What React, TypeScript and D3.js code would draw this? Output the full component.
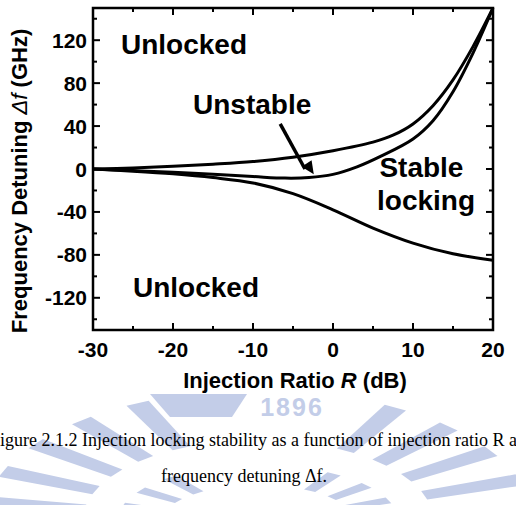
import React, { useEffect, useRef } from 'react';
import * as d3 from 'd3';

// boundary curves: [injection ratio dB, detuning GHz]
const upperBoundary = [
  [-30, 0], [-25, 1], [-20, 2.5], [-15, 4.5], [-10, 7], [-5, 11], [0, 17],
  [5, 25], [7.5, 31.5], [10, 42], [12.5, 59], [15, 83], [17.5, 114], [20, 150],
];
const stableBoundary = [
  [-30, 0], [-25, -1.5], [-20, -3], [-15, -5], [-10, -7], [-6, -8.5], [-3, -8],
  [0, -5], [3, 2], [6, 12], [10, 28], [12.5, 45], [15, 72], [17.5, 108], [20, 150],
];
const lowerBoundary = [
  [-30, 0], [-25, -2], [-20, -4.5], [-15, -8], [-10, -13], [-5, -23], [0, -38],
  [5, -55], [10, -69], [15, -79], [20, -85],
];

const xTicks = [-30, -20, -10, 0, 10, 20];
const yTicks = [-120, -80, -40, 0, 40, 80, 120];

const regionLabels = [
  { text: 'Unlocked', x: -26.5, y: 107 },
  { text: 'Unstable', x: -17.5, y: 51 },
  { text: 'Stable', x: 5.8, y: -7 },
  { text: 'locking', x: 5.5, y: -38 },
  { text: 'Unlocked', x: -25, y: -119 },
];

const App = () => {
  const svgRef = useRef(null);

  useEffect(() => {
    const svg = d3.select(svgRef.current);
    svg.selectAll('*').remove();

    const margin = { top: 8, right: 23, bottom: 175, left: 93 };
    const W = 516, H = 505;
    const x = d3.scaleLinear().domain([-30, 20]).range([margin.left, W - margin.right]);
    const y = d3.scaleLinear().domain([-150, 150]).range([H - margin.bottom, margin.top]);
    const sans = "'Liberation Sans', Arial, sans-serif";

    // faint watermark logo behind the caption (decoration only)
    const wm = svg.append('g').attr('fill', '#c3cde8');
    const cx = 258, cy = 520;
    const ray = (a, w, r0x, r0y, r1x, r1y) => {
      const pt = (t, rx, ry) => [cx + rx * Math.cos(t), cy + ry * Math.sin(t)];
      const r = (a * Math.PI) / 180, dw = (w * Math.PI) / 180;
      const p = [pt(r - dw, r0x, r0y), pt(r - dw * 0.8, r1x, r1y), pt(r + dw * 0.8, r1x, r1y), pt(r + dw, r0x, r0y)];
      wm.append('path').attr('d', 'M' + p.join('L') + 'Z');
    };
    d3.range(-172, 0, 14).forEach(a => {
      if (a > -112 && a < -60) return;
      ray(a, 3.2, 175, 80, 275, 130);
    });
    d3.range(-165, -10, 18).forEach(a => {
      if (a > -120 && a < -60) return;
      ray(a, 4, 95, 35, 140, 55);
    });
    wm.append('path').attr('d', 'M150,394L247,394L232,417L170,417Z');
    wm.append('text').attr('x', 292).attr('y', 416).attr('text-anchor', 'middle')
      .attr('font-family', sans).attr('font-weight', 'bold').attr('font-size', 25)
      .attr('letter-spacing', 2).text('1896');

    const g = svg.append('g');

    // curves
    const line = d3.line().x(d => x(d[0])).y(d => y(d[1])).curve(d3.curveCatmullRom.alpha(0.5));
    [upperBoundary, stableBoundary, lowerBoundary].forEach(data => {
      g.append('path').attr('d', line(data))
        .attr('fill', 'none').attr('stroke', '#000').attr('stroke-width', 3);
    });

    // frame
    g.append('rect')
      .attr('x', x(-30)).attr('y', y(150))
      .attr('width', x(20) - x(-30)).attr('height', y(-150) - y(150))
      .attr('fill', 'none').attr('stroke', '#000').attr('stroke-width', 2.5);

    // ticks, all pointing inward
    const tick = (x1, y1, x2, y2) => g.append('line')
      .attr('x1', x1).attr('y1', y1).attr('x2', x2).attr('y2', y2)
      .attr('stroke', '#000').attr('stroke-width', 2);
    d3.range(-30, 21, 5).forEach(v => {
      const len = v % 10 === 0 ? 7 : 4;
      tick(x(v), y(-150), x(v), y(-150) - len);
      tick(x(v), y(150), x(v), y(150) + len);
    });
    d3.range(-140, 141, 20).forEach(v => {
      const len = v % 40 === 0 ? 7 : 4;
      tick(x(-30), y(v), x(-30) + len, y(v));
      tick(x(20), y(v), x(20) - len, y(v));
    });

    // tick labels
    g.selectAll('.xl').data(xTicks).enter().append('text')
      .attr('x', d => x(d)).attr('y', 357).attr('text-anchor', 'middle')
      .attr('font-family', sans).attr('font-weight', 'bold').attr('font-size', 21)
      .text(d => d);
    g.selectAll('.yl').data(yTicks).enter().append('text')
      .attr('x', 87).attr('y', d => y(d) + 7.5).attr('text-anchor', 'end')
      .attr('font-family', sans).attr('font-weight', 'bold').attr('font-size', 21)
      .text(d => d);

    // axis titles
    const xt = g.append('text').attr('x', 295).attr('y', 388).attr('text-anchor', 'middle')
      .attr('font-family', sans).attr('font-weight', 'bold').attr('font-size', 22);
    xt.append('tspan').text('Injection Ratio ');
    xt.append('tspan').attr('font-style', 'italic').text('R');
    xt.append('tspan').text(' (dB)');

    const yt = g.append('text').attr('transform', 'translate(27,181) rotate(-90)')
      .attr('text-anchor', 'middle')
      .attr('font-family', sans).attr('font-weight', 'bold').attr('font-size', 22);
    yt.append('tspan').text('Frequency Detuning ');
    yt.append('tspan').attr('font-style', 'italic').attr('font-weight', 'normal').text('Δf');
    yt.append('tspan').text(' (GHz)');

    // region labels
    g.selectAll('.rl').data(regionLabels).enter().append('text')
      .attr('x', d => x(d.x)).attr('y', d => y(d.y))
      .attr('font-family', sans).attr('font-weight', 'bold').attr('font-size', 28)
      .text(d => d.text);

    // arrow into the unstable wedge
    g.append('line')
      .attr('x1', x(-6.6)).attr('y1', y(42)).attr('x2', x(-3.5)).attr('y2', y(0))
      .attr('stroke', '#000').attr('stroke-width', 3.5);
    const tip = [x(-2.4), y(-5)];
    const ang = Math.atan2(tip[1] - y(42), tip[0] - x(-6.6));
    const hl = 13, hw = 6;
    const bx = tip[0] - hl * Math.cos(ang), by = tip[1] - hl * Math.sin(ang);
    g.append('path')
      .attr('d', `M${tip[0]},${tip[1]}L${bx - hw * Math.sin(ang)},${by + hw * Math.cos(ang)}L${bx + hw * Math.sin(ang)},${by - hw * Math.cos(ang)}Z`)
      .attr('fill', '#000');

    // caption (the page crop cuts the first line at both ends)
    const serif = "'Liberation Serif', 'Times New Roman', serif";
    g.append('text').attr('x', -10).attr('y', 446)
      .attr('font-family', serif).attr('font-size', 18)
      .text('Figure 2.1.2 Injection locking stability as a function of injection ratio R and');
    g.append('text').attr('x', 244).attr('y', 482).attr('text-anchor', 'middle')
      .attr('font-family', serif).attr('font-size', 18)
      .text('frequency detuning Δf.');
  }, []);

  return (
    <svg ref={svgRef} width={516} height={505}
      style={{ position: 'absolute', left: 0, top: 0, background: '#fff' }} />
  );
};

export default App;
